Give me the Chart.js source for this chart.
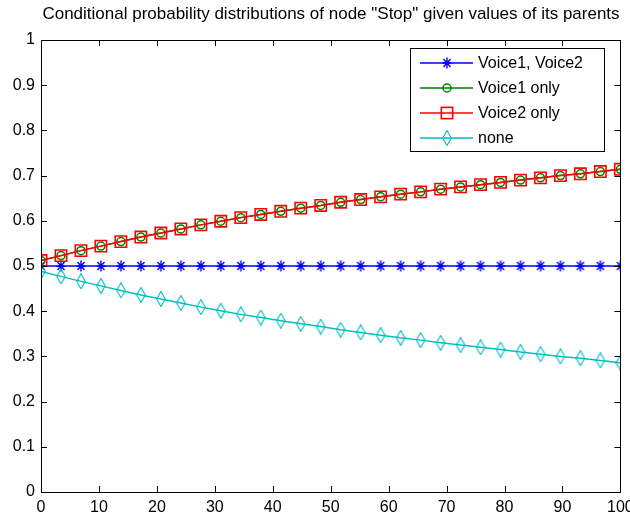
<!DOCTYPE html>
<html lang="en">
    <head>
        <meta charset="UTF-8">
        <title>Stop node CPD</title>
        <script src="https://cdn.jsdelivr.net/npm/chart.js"></script>
        <style>
            body { margin: 0; background: #fff; }
            #wrap { width: 630px; height: 513px; }
        </style>
    </head>
    <body>
        <div id="wrap"><canvas id="cpdChart" width="630" height="513"></canvas></div>

        <script>
            // data
            const xValues = [0, 3.45, 6.9, 10.34, 13.79, 17.24, 20.69, 24.14, 27.59, 31.03,
                34.48, 37.93, 41.38, 44.83, 48.28, 51.72, 55.17, 58.62, 62.07, 65.52,
                68.97, 72.41, 75.86, 79.31, 82.76, 86.21, 89.66, 93.1, 96.55, 100];
            const voiceBoth = [0.5, 0.5, 0.5, 0.5, 0.5, 0.5, 0.5, 0.5, 0.5, 0.5,
                0.5, 0.5, 0.5, 0.5, 0.5, 0.5, 0.5, 0.5, 0.5, 0.5,
                0.5, 0.5, 0.5, 0.5, 0.5, 0.5, 0.5, 0.5, 0.5, 0.5];
            const voice1Only = [0.512, 0.523, 0.534, 0.544, 0.554, 0.564, 0.573, 0.582, 0.591, 0.599,
                0.607, 0.614, 0.621, 0.628, 0.634, 0.641, 0.647, 0.653, 0.659, 0.664,
                0.670, 0.675, 0.680, 0.685, 0.690, 0.695, 0.700, 0.704, 0.709, 0.714];
            const voice2Only = [0.512, 0.523, 0.534, 0.544, 0.554, 0.564, 0.573, 0.582, 0.591, 0.599,
                0.607, 0.614, 0.621, 0.628, 0.634, 0.641, 0.647, 0.653, 0.659, 0.664,
                0.670, 0.675, 0.680, 0.685, 0.690, 0.695, 0.700, 0.704, 0.709, 0.714];
            const noVoice = [0.488, 0.477, 0.466, 0.456, 0.446, 0.436, 0.427, 0.418, 0.409, 0.401,
                0.393, 0.386, 0.379, 0.372, 0.366, 0.359, 0.353, 0.347, 0.341, 0.336,
                0.330, 0.325, 0.320, 0.315, 0.310, 0.305, 0.300, 0.296, 0.291, 0.286];
            const seriesNames = ['Voice1, Voice2', 'Voice1 only', 'Voice2 only', 'none'];
            const titleText = 'Conditional probability distributions of node "Stop" given values of its parents';

            const FONT = '"Liberation Sans", Arial, sans-serif';

            // matlab-like markers that chart.js has no shape for
            function starMarker(color) {
                const c = document.createElement('canvas');
                c.width = 10; c.height = 12;
                const g = c.getContext('2d');
                g.strokeStyle = color; g.lineWidth = 1.4;
                g.beginPath();
                g.moveTo(5, 0.5); g.lineTo(5, 11.5);
                g.moveTo(0.5, 6); g.lineTo(9.5, 6);
                g.moveTo(1.5, 2); g.lineTo(8.5, 10);
                g.moveTo(8.5, 2); g.lineTo(1.5, 10);
                g.stroke();
                return c;
            }
            function diamondMarker(color) {
                const c = document.createElement('canvas');
                c.width = 10; c.height = 16;
                const g = c.getContext('2d');
                g.strokeStyle = color; g.lineWidth = 1.1;
                g.beginPath();
                g.moveTo(5, 0.5); g.lineTo(9.3, 8); g.lineTo(5, 15.5); g.lineTo(0.7, 8);
                g.closePath();
                g.stroke();
                return c;
            }
            const starImg = starMarker('#0000ff');
            const diamondImg = diamondMarker('#00bfbf');

            const toPoints = ys => xValues.map((x, i) => ({ x: x, y: ys[i] }));

            // inward ticks on all four sides, like matlab's "box on"
            const boxTicks = {
                id: 'boxTicks',
                afterDatasetsDraw(chart) {
                    const ctx = chart.ctx, a = chart.chartArea;
                    const xs = chart.scales.x, ys = chart.scales.y;
                    const len = 6;
                    ctx.save();
                    ctx.strokeStyle = '#000';
                    ctx.lineWidth = 1;
                    ctx.beginPath();
                    xs.ticks.forEach(t => {
                        const px = Math.round(xs.getPixelForValue(t.value)) + 0.5;
                        ctx.moveTo(px, a.bottom); ctx.lineTo(px, a.bottom - len);
                        ctx.moveTo(px, a.top); ctx.lineTo(px, a.top + len);
                    });
                    ys.ticks.forEach(t => {
                        const py = Math.round(ys.getPixelForValue(t.value)) + 0.5;
                        ctx.moveTo(a.left, py); ctx.lineTo(a.left + len, py);
                        ctx.moveTo(a.right, py); ctx.lineTo(a.right - len, py);
                    });
                    ctx.stroke();
                    ctx.strokeRect(Math.round(a.left) + 0.5, Math.round(a.top) + 0.5,
                        Math.round(a.right - a.left), Math.round(a.bottom - a.top));
                    ctx.restore();
                }
            };

            // title + matlab style legend box (line with marker in the middle)
            const matlabLegend = {
                id: 'matlabLegend',
                afterDraw(chart) {
                    const ctx = chart.ctx;
                    ctx.save();
                    ctx.fillStyle = '#000';
                    ctx.font = '17px ' + FONT;
                    ctx.textAlign = 'center';
                    ctx.textBaseline = 'middle';
                    ctx.fillText(titleText, 331, 14);

                    const bx = 410.5, by = 48.5, bw = 194, bh = 103;
                    ctx.fillStyle = '#fff';
                    ctx.fillRect(bx, by, bw, bh);
                    ctx.strokeStyle = '#000';
                    ctx.lineWidth = 1;
                    ctx.strokeRect(bx, by, bw, bh);

                    const rows = [63, 88, 113, 138];
                    chart.data.datasets.forEach((ds, i) => {
                        const y = rows[i];
                        ctx.strokeStyle = ds.borderColor;
                        ctx.lineWidth = 1.5;
                        ctx.beginPath();
                        ctx.moveTo(420, y); ctx.lineTo(473, y);
                        ctx.stroke();
                        const ps = ds.pointStyle;
                        ctx.lineWidth = ds.pointBorderWidth || 1;
                        ctx.strokeStyle = ds.pointBorderColor;
                        if (ps instanceof HTMLCanvasElement) {
                            ctx.drawImage(ps, 447 - ps.width / 2, y - ps.height / 2);
                        } else if (ps === 'circle') {
                            ctx.beginPath();
                            ctx.arc(447, y, ds.pointRadius, 0, Math.PI * 2);
                            ctx.stroke();
                        } else if (ps === 'rect') {
                            const h = Math.SQRT1_2 * ds.pointRadius;
                            ctx.strokeRect(447 - h, y - h, 2 * h, 2 * h);
                        }
                        ctx.fillStyle = '#000';
                        ctx.font = '16px ' + FONT;
                        ctx.textAlign = 'left';
                        ctx.fillText(seriesNames[i], 478, y + 1);
                    });
                    ctx.restore();
                }
            };

            new Chart(document.getElementById('cpdChart').getContext('2d'), {
                type: 'line',
                data: {
                    datasets: [{
                            label: seriesNames[0],
                            data: toPoints(voiceBoth),
                            borderColor: '#0000ff',
                            borderWidth: 1.5,
                            pointStyle: starImg,
                            pointBorderColor: '#0000ff',
                            pointRadius: 5,
                            order: 4
                        }, {
                            label: seriesNames[1],
                            data: toPoints(voice1Only),
                            borderColor: '#008000',
                            borderWidth: 1.5,
                            pointStyle: 'circle',
                            pointBorderColor: '#008000',
                            pointBackgroundColor: 'rgba(0,0,0,0)',
                            pointBorderWidth: 1.5,
                            pointRadius: 4,
                            order: 3
                        }, {
                            label: seriesNames[2],
                            data: toPoints(voice2Only),
                            borderColor: '#ff0000',
                            borderWidth: 1.5,
                            pointStyle: 'rect',
                            pointBorderColor: '#ff0000',
                            pointBackgroundColor: 'rgba(0,0,0,0)',
                            pointBorderWidth: 1.6,
                            pointRadius: 8,
                            order: 2
                        }, {
                            label: seriesNames[3],
                            data: toPoints(noVoice),
                            borderColor: '#00bfbf',
                            borderWidth: 1.5,
                            pointStyle: diamondImg,
                            pointBorderColor: '#00bfbf',
                            pointRadius: 6,
                            order: 1
                        }]
                },
                options: {
                    responsive: false,
                    animation: false,
                    layout: { padding: { left: 0, top: 40, right: 9, bottom: 0 } },
                    plugins: {
                        legend: { display: false },
                        title: { display: false },
                        tooltip: { enabled: false }
                    },
                    elements: { line: { tension: 0 } },
                    scales: {
                        x: {
                            type: 'linear',
                            min: 0,
                            max: 100,
                            grid: { display: false, drawTicks: false },
                            border: { display: false },
                            ticks: {
                                stepSize: 10,
                                color: '#000',
                                padding: 6,
                                maxRotation: 0,
                                font: { family: FONT, size: 16 }
                            },
                            afterFit: s => { s.height = 21; s.paddingRight = 0; s.paddingLeft = 0; }
                        },
                        y: {
                            min: 0,
                            max: 1,
                            grid: { display: false, drawTicks: false },
                            border: { display: false },
                            ticks: {
                                stepSize: 0.1,
                                color: '#000',
                                padding: 6,
                                font: { family: FONT, size: 16 },
                                callback: v => String(Number(v.toFixed(2)))
                            },
                            afterFit: s => { s.width = 41; s.paddingTop = 0; s.paddingBottom = 0; }
                        }
                    }
                },
                plugins: [boxTicks, matlabLegend]
            });
        </script>
    </body>
</html>
